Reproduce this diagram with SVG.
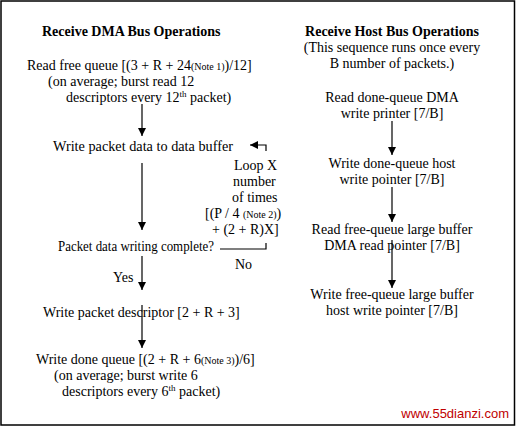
<svg xmlns="http://www.w3.org/2000/svg" width="516" height="427" viewBox="0 0 516 427">
<style>
text{font-family:"Liberation Serif","Times New Roman",serif;font-size:14px;fill:#000}
.b{font-weight:bold}
.m{text-anchor:middle}
.n{font-size:10px}
.sup{font-size:9px}
.wm{font-family:"Liberation Sans",Arial,sans-serif;font-size:13px;fill:#c00000}
.ln{stroke:#000;stroke-width:1.2;fill:none}
</style>
<defs>
<marker id="ah" viewBox="0 0 10 10" refX="10" refY="5" markerWidth="8" markerHeight="8" markerUnits="userSpaceOnUse" orient="auto">
<path d="M0,0 L10,5 L0,10 z" fill="#000"/>
</marker>
</defs>
<rect x="1" y="1" width="513.5" height="424" fill="#fff" stroke="#000" stroke-width="1.5"/>
<text class="b" x="42" y="36">Receive DMA Bus Operations</text>
<text class="b m" x="392" y="36">Receive Host Bus Operations</text>
<g id="n-readfree">
<text x="27" y="70">Read free queue [(3 + R + 24<tspan class="n">(Note 1)</tspan>)/12]</text>
<text x="48" y="86">(on average; burst read 12</text>
<text x="66" y="102">descriptors every 12<tspan class="sup" dy="-5">th</tspan><tspan dy="5"> packet)</tspan></text>
</g>
<g id="n-writepacket">
<text x="53" y="151" textLength="180" lengthAdjust="spacingAndGlyphs">Write packet data to data buffer</text>
</g>
<g id="n-loop">
<text x="234" y="170">Loop X</text>
<text x="233" y="186">number</text>
<text x="232" y="202">of times</text>
<text x="205" y="218">[(P / 4 <tspan class="n">(Note 2)</tspan>)</text>
<text x="212" y="234">+ (2 + R)X]</text>
</g>
<g id="n-complete">
<text x="58" y="251" textLength="156" lengthAdjust="spacingAndGlyphs">Packet data writing complete?</text>
</g>
<g id="n-descriptor">
<text x="43" y="317">Write packet descriptor [2 + R + 3]</text>
</g>
<g id="n-donequeue">
<text x="36" y="364">Write done queue [(2 + R + 6<tspan class="n">(Note 3)</tspan>)/6]</text>
<text x="54" y="380">(on average; burst write 6</text>
<text x="62" y="396">descriptors every 6<tspan class="sup" dy="-5">th</tspan><tspan dy="5"> packet)</tspan></text>
</g>
<g id="n-hostintro">
<text class="m" x="392" y="52">(This sequence runs once every</text>
<text class="m" x="392" y="68">B number of packets.)</text>
</g>
<g id="n-readdone">
<text class="m" x="392" y="102">Read done-queue DMA</text>
<text class="m" x="392" y="118">write printer [7/B]</text>
</g>
<g id="n-writedone">
<text class="m" x="392" y="168">Write done-queue host</text>
<text class="m" x="392" y="184">write pointer [7/B]</text>
</g>
<g id="n-readfreelarge">
<text class="m" x="392" y="234">Read free-queue large buffer</text>
<text class="m" x="392" y="250">DMA read pointer [7/B]</text>
</g>
<g id="n-writefreelarge">
<text class="m" x="392" y="299">Write free-queue large buffer</text>
<text class="m" x="392" y="315">host write pointer [7/B]</text>
</g>
<g id="connectors">
<line class="ln" x1="142" y1="104" x2="142" y2="136" marker-end="url(#ah)"/>
<line class="ln" x1="142" y1="163" x2="142" y2="230" marker-end="url(#ah)"/>
<line class="ln" x1="142" y1="256" x2="142" y2="290" marker-end="url(#ah)"/>
<line class="ln" x1="142" y1="305" x2="142" y2="348" marker-end="url(#ah)"/>
<polyline class="ln" points="220,249 266,249 266,243"/>
<polyline class="ln" points="266,151 266,145 250,145" marker-end="url(#ah)"/>
<line class="ln" x1="392" y1="121" x2="392" y2="155" marker-end="url(#ah)"/>
<line class="ln" x1="392" y1="187" x2="392" y2="222" marker-end="url(#ah)"/>
<line class="ln" x1="392" y1="240" x2="392" y2="288" marker-end="url(#ah)"/>
</g>
<text x="235" y="269">No</text>
<text x="113" y="282">Yes</text>
<text class="wm" x="509" y="418" text-anchor="end">www.55dianzi.com</text>
</svg>
